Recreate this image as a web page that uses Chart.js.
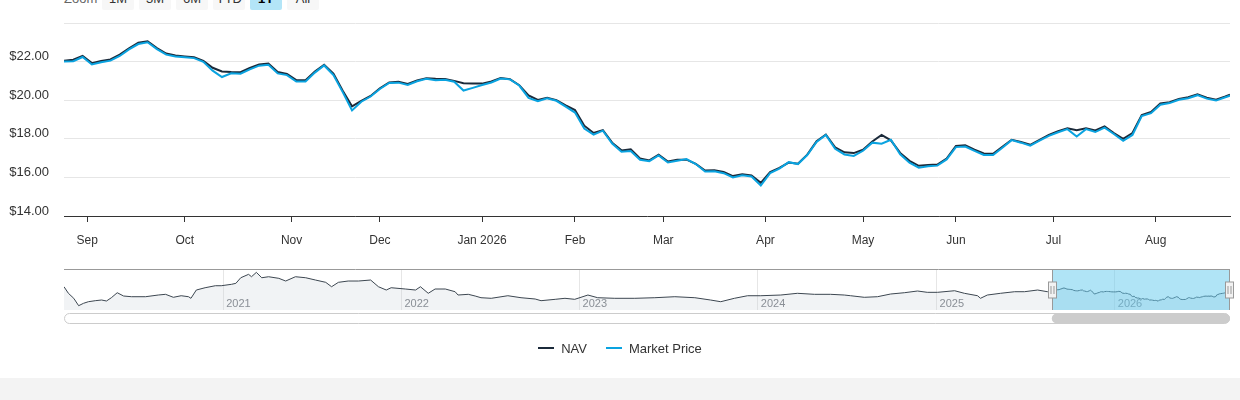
<!DOCTYPE html>
<html>
<head>
<meta charset="utf-8">
<title>NAV vs Market Price</title>
<script src="https://cdn.jsdelivr.net/npm/chart.js@4.4.1/dist/chart.umd.min.js"></script>
<style>
  html, body { margin: 0; padding: 0; background: #fff; }
  body { width: 1240px; height: 400px; position: relative; overflow: hidden;
         font-family: "Liberation Sans", Arial, sans-serif; }
  #zoom { position: absolute; left: 64px; top: -13px; height: 23px; display: flex; font-size: 13px; }
  #zoom .lbl { width: 38px; line-height: 23px; color: #666; }
  #zoom .btn { width: 32px; height: 23px; line-height: 23px; margin-right: 5px; text-align: center;
               background: #f7f7f7; color: #333; border-radius: 2px; }
  #zoom .btn.on { background: #b3e5f7; color: #000; font-weight: bold; }
  #main { position: absolute; left: 0; top: 0; width: 1240px; height: 262px; }
  #nav { position: absolute; left: 0; top: 260px; width: 1240px; height: 70px; }
  #legend { position: absolute; left: 0; top: 338px; width: 1240px; height: 20px; display: flex;
            justify-content: center; align-items: center; font-size: 13px; color: #333; }
  #legend .item { display: flex; align-items: center; margin: 0 9.5px; }
  #legend .sym { width: 16px; height: 2px; margin-right: 7px; }
  #footer { position: absolute; left: 0; top: 378px; width: 1240px; height: 22px; background: #f3f3f3; }
</style>
</head>
<body>
<div id="zoom">
  <div class="lbl">Zoom</div>
  <div class="btn">1M</div><div class="btn">3M</div><div class="btn">6M</div>
  <div class="btn">YTD</div><div class="btn on">1Y</div><div class="btn">All</div>
</div>
<div id="main"><canvas id="mainChart"></canvas></div>
<div id="nav"><canvas id="navChart"></canvas></div>
<div id="legend"></div>
<div id="footer"></div>

<script>
/* ============================
   DATA
============================ */
const START = "2025-08-25";
const END = "2026-08-25";
const HOLIDAYS = ["2025-09-01", "2025-11-27", "2025-12-25", "2026-01-01", "2026-01-19",
                  "2026-02-16", "2026-04-03", "2026-05-25", "2026-06-19", "2026-07-03"];

// one value every second trading session (plus the last one)
const nav = [
  22.05, 22.1, 22.29, 21.92, 22.03, 22.11, 22.36, 22.69, 22.98, 23.05,
  22.7, 22.42, 22.32, 22.27, 22.22, 22.04, 21.68, 21.49, 21.46, 21.45,
  21.67, 21.85, 21.9, 21.46, 21.36, 21.04, 21.03, 21.48, 21.84, 21.38,
  20.49, 19.68, 19.96, 20.22, 20.62, 20.92, 20.96, 20.84, 21.02, 21.14,
  21.11, 21.1, 21.0, 20.88, 20.87, 20.86, 20.97, 21.15, 21.09, 20.78,
  20.25, 20.01, 20.13, 20.0, 19.73, 19.49, 18.68, 18.3, 18.45, 17.8,
  17.4, 17.45, 16.98, 16.88, 17.17, 16.82, 16.91, 16.92, 16.7, 16.36,
  16.37, 16.28, 16.07, 16.16, 16.1, 15.72, 16.27, 16.49, 16.77, 16.71,
  17.18, 17.87, 18.22, 17.56, 17.3, 17.26, 17.43, 17.86, 18.2, 17.92,
  17.27, 16.86, 16.6, 16.64, 16.67, 16.98, 17.63, 17.67, 17.44, 17.24,
  17.22, 17.59, 17.95, 17.83, 17.69, 17.95, 18.2, 18.39, 18.55, 18.44,
  18.55, 18.43, 18.64, 18.3, 18.0, 18.3, 19.23, 19.39, 19.83, 19.9,
  20.07, 20.16, 20.3, 20.13, 20.03, 20.19, 20.28
];

const marketPrice = [
  22.0, 22.02, 22.24, 21.85, 21.97, 22.05, 22.29, 22.63, 22.91, 23.0,
  22.65, 22.36, 22.27, 22.22, 22.18, 21.99, 21.53, 21.2, 21.39, 21.37,
  21.6, 21.79, 21.84, 21.39, 21.3, 20.97, 20.97, 21.43, 21.8, 21.3,
  20.42, 19.47, 19.92, 20.19, 20.58, 20.89, 20.91, 20.79, 20.98, 21.11,
  21.03, 21.06, 20.96, 20.5, 20.64, 20.79, 20.92, 21.12, 21.08, 20.76,
  20.12, 19.95, 20.1, 19.97, 19.67, 19.36, 18.53, 18.22, 18.42, 17.75,
  17.33, 17.37, 16.91, 16.84, 17.14, 16.77, 16.86, 16.95, 16.69, 16.31,
  16.32, 16.22, 16.0, 16.11, 16.05, 15.58, 16.22, 16.46, 16.79, 16.69,
  17.16, 17.84, 18.2, 17.48, 17.19, 17.11, 17.38, 17.8, 17.75, 17.95,
  17.2, 16.76, 16.5, 16.58, 16.61, 16.93, 17.57, 17.6, 17.37, 17.16,
  17.16, 17.54, 17.93, 17.8, 17.64, 17.9, 18.15, 18.34, 18.5, 18.12,
  18.5, 18.35, 18.58, 18.25, 17.9, 18.2, 19.18, 19.33, 19.77, 19.85,
  20.02, 20.1, 20.26, 20.08, 19.98, 20.15, 20.24
];

// longer NAV history shown in the navigator
const historyDates = [
  "2020-02-10", "2020-02-19", "2020-03-01", "2020-03-11", "2020-03-21", "2020-03-31", "2020-04-14", "2020-04-27",
  "2020-05-07", "2020-05-17", "2020-05-29", "2020-06-11", "2020-06-27", "2020-07-26", "2020-08-21", "2020-09-05",
  "2020-09-21", "2020-10-07", "2020-10-22", "2020-10-27", "2020-11-07", "2020-11-25", "2020-12-16", "2020-12-28",
  "2021-01-18", "2021-01-27", "2021-02-06", "2021-02-22", "2021-02-28", "2021-03-10", "2021-03-21", "2021-04-04",
  "2021-04-25", "2021-05-09", "2021-05-29", "2021-06-19", "2021-07-09", "2021-07-30", "2021-08-11", "2021-08-25",
  "2021-09-14", "2021-10-05", "2021-10-30", "2021-11-15", "2021-12-01", "2021-12-11", "2022-01-09", "2022-01-30",
  "2022-02-09", "2022-02-25", "2022-03-11", "2022-04-01", "2022-04-21", "2022-04-27", "2022-05-18", "2022-06-01",
  "2022-06-13", "2022-07-04", "2022-08-07", "2022-09-03", "2022-10-02", "2022-10-14", "2022-11-12", "2022-12-02",
  "2022-12-22", "2023-01-18", "2023-02-07", "2023-03-14", "2023-04-24", "2023-06-04", "2023-07-15", "2023-08-25",
  "2023-09-26", "2023-10-17", "2023-11-14", "2023-12-11", "2024-01-07", "2024-02-17", "2024-03-22", "2024-04-26",
  "2024-05-29", "2024-06-26", "2024-07-09", "2024-08-06", "2024-09-02", "2024-09-29", "2024-10-27", "2024-11-23",
  "2024-12-13", "2025-01-03", "2025-02-07", "2025-02-27", "2025-03-26", "2025-04-01", "2025-04-15", "2025-05-12",
  "2025-06-10", "2025-06-30", "2025-07-27", "2025-08-16"
];
const historyNav = [
  23.74, 20.08, 17.3, 13.19, 14.52, 15.41, 15.97, 16.36,
  15.8, 17.63, 20.41, 18.58, 18.19, 18.19, 19.13, 19.52,
  17.86, 18.74, 18.19, 17.3, 21.91, 23.19, 24.3, 24.3,
  25.08, 25.63, 28.74, 30.63, 29.3, 31.74, 28.74, 29.3,
  28.41, 26.91, 29.3, 28.74, 27.47, 26.19, 23.74, 26.19,
  26.91, 26.91, 27.47, 23.74, 21.91, 23.19, 22.47, 21.91,
  23.74, 20.08, 22.47, 22.47, 20.97, 19.13, 19.52, 18.58,
  17.63, 17.3, 18.74, 17.63, 16.91, 15.97, 16.74, 17.3,
  16.74, 19.13, 17.63, 17.3, 17.3, 17.63, 18.19, 17.63,
  16.36, 15.41, 17.3, 18.74, 18.74, 19.13, 20.08, 19.52,
  19.52, 19.13, 18.74, 17.86, 18.19, 19.69, 20.41, 21.36,
  20.63, 20.63, 21.52, 20.08, 18.74, 17.3, 19.13, 20.08,
  20.97, 20.97, 21.91, 20.97
];

const monthLabels = ["Sep", "Oct", "Nov", "Dec", "Jan 2026", "Feb", "Mar", "Apr", "May", "Jun", "Jul", "Aug"];
const yearLabels = ["2021", "2022", "2023", "2024", "2025", "2026"];

const NAV_COLOR = "#1b2a3a";
const MARKET_COLOR = "#0aa3e0";
const FONT = '"Liberation Sans", Arial, sans-serif';

/* ============================
   TRADING CALENDAR
============================ */
function dayNum(iso) {
    const [y, m, d] = iso.split("-").map(Number);
    return Date.UTC(y, m - 1, d) / 864e5;
}

let sessions = [];
for (let t = dayNum(START); t <= dayNum(END); t++) {
    const dt = new Date(t * 864e5);
    const wd = dt.getUTCDay();
    const iso = dt.toISOString().slice(0, 10);
    if (wd > 0 && wd < 6 && !HOLIDAYS.includes(iso)) sessions.push(iso);
}
const lastSession = sessions.length - 1;

// sessions that carry a value
const sampleIdx = sessions.map((d, i) => i).filter(i => i % 2 === 0 || i === lastSession);

// first session of every month
let monthTickIdx = [];
sessions.forEach((d, i) => {
    if (i > 0 && d.slice(5, 7) !== sessions[i - 1].slice(5, 7)) monthTickIdx.push(i);
});

Chart.defaults.font.family = FONT;

/* ============================
   MAIN CHART
============================ */
new Chart(document.getElementById("mainChart"), {
    type: "line",
    data: {
        datasets: [{
            label: "NAV",
            data: nav.map((v, i) => ({ x: sampleIdx[i], y: v })),
            borderColor: NAV_COLOR,
            borderWidth: 2,
            order: 2
        }, {
            label: "Market Price",
            data: marketPrice.map((v, i) => ({ x: sampleIdx[i], y: v })),
            borderColor: MARKET_COLOR,
            borderWidth: 2,
            order: 1
        }]
    },
    options: {
        animation: false,
        responsive: true,
        maintainAspectRatio: false,
        layout: { padding: { top: 23, right: 10, left: 0, bottom: 0 } },
        plugins: { legend: { display: false }, tooltip: { enabled: false } },
        elements: { point: { radius: 0 }, line: { tension: 0 } },
        scales: {
            x: {
                type: "linear",
                min: 0,
                max: lastSession,
                afterBuildTicks: s => { s.ticks = monthTickIdx.map(v => ({ value: v })); },
                afterFit: s => { s.height = 46; },
                grid: { drawOnChartArea: false, drawTicks: true, tickLength: 6, tickColor: "#333", color: "#333" },
                border: { display: true, color: "#333", width: 1 },
                ticks: {
                    autoSkip: false, maxRotation: 0, padding: 11, color: "#333",
                    font: { size: 12 },
                    callback: (v, i) => monthLabels[i]
                }
            },
            y: {
                min: 14,
                max: 24,
                afterFit: s => { s.width = 64; },
                grid: { color: "#e6e6e6", drawTicks: false },
                border: { display: false },
                ticks: {
                    stepSize: 2, padding: 15, labelOffset: -5, color: "#333",
                    font: { size: 13 },
                    callback: v => v === 24 ? "" : "$" + v.toFixed(2)
                }
            }
        }
    }
});

/* ============================
   NAVIGATOR
============================ */
const startDay = dayNum(START);
const navPoints = historyDates.map((d, i) => ({ x: dayNum(d) - startDay, y: historyNav[i] }))
    .concat(sampleIdx.map((s, i) => ({ x: dayNum(sessions[s]) - startDay, y: nav[i] })));
const navMin = dayNum(historyDates[0]) - startDay;
const navMax = dayNum(sessions[lastSession]) - startDay;
const yearStarts = yearLabels.map(y => dayNum(y + "-01-01") - startDay);

function roundRect(ctx, x, y, w, h, r) {
    ctx.beginPath();
    if (ctx.roundRect) ctx.roundRect(x, y, w, h, r);
    else ctx.rect(x, y, w, h);
}

const navigatorDecor = {
    id: "navigatorDecor",
    afterDatasetsDraw(chart) {
        const { ctx, chartArea: a, scales: { x } } = chart;
        ctx.save();
        // year labels inside the navigator, right of each year line
        ctx.font = "11px " + FONT;
        ctx.fillStyle = "#8a8f96";
        ctx.textAlign = "left";
        ctx.textBaseline = "alphabetic";
        yearStarts.forEach((v, i) => {
            ctx.fillText(yearLabels[i], x.getPixelForValue(v) + 3, a.bottom - 3.5);
        });

        const x0 = Math.round(x.getPixelForValue(0)) + 0.5;
        const x1 = Math.round(x.getPixelForValue(navMax)) - 0.5;
        // selected range
        ctx.fillStyle = "rgba(97,201,237,0.5)";
        ctx.fillRect(x0, a.top, x1 - x0, a.bottom - a.top);
        // outline
        ctx.strokeStyle = "#999";
        ctx.lineWidth = 1;
        ctx.beginPath();
        ctx.moveTo(a.left, a.top + 0.5);
        ctx.lineTo(a.right, a.top + 0.5);
        ctx.moveTo(x0, a.top);
        ctx.lineTo(x0, a.bottom);
        ctx.moveTo(x1, a.top);
        ctx.lineTo(x1, a.bottom);
        ctx.stroke();
        // handles
        const mid = Math.round((a.top + a.bottom) / 2);
        [x0, x1].forEach(hx => {
            ctx.fillStyle = "#f2f2f2";
            ctx.fillRect(hx - 4, mid - 8, 8, 16);
            ctx.strokeRect(hx - 4, mid - 8, 8, 16);
            ctx.beginPath();
            ctx.moveTo(hx - 1.5, mid - 4);
            ctx.lineTo(hx - 1.5, mid + 4);
            ctx.moveTo(hx + 1.5, mid - 4);
            ctx.lineTo(hx + 1.5, mid + 4);
            ctx.stroke();
        });
        ctx.restore();
    },
    afterDraw(chart) {
        const { ctx, chartArea: a, scales: { x } } = chart;
        const x0 = x.getPixelForValue(0);
        const x1 = x.getPixelForValue(navMax);
        const top = a.bottom + 3.5;
        ctx.save();
        // scrollbar track
        roundRect(ctx, a.left + 0.5, top, a.right - a.left - 1, 10, 5);
        ctx.fillStyle = "#fff";
        ctx.fill();
        ctx.strokeStyle = "#ccc";
        ctx.stroke();
        // scrollbar thumb
        roundRect(ctx, x0, top, x1 - x0, 10, 5);
        ctx.fillStyle = "#cccccc";
        ctx.fill();
        ctx.restore();
    }
};

new Chart(document.getElementById("navChart"), {
    type: "line",
    data: {
        datasets: [{
            label: "NAV",
            data: navPoints,
            borderColor: "#3c4650",
            borderWidth: 1,
            fill: "start",
            backgroundColor: "rgba(200,207,216,0.25)"
        }]
    },
    options: {
        animation: false,
        responsive: true,
        maintainAspectRatio: false,
        layout: { padding: { top: 9, right: 10, left: 64, bottom: 0 } },
        plugins: { legend: { display: false }, tooltip: { enabled: false } },
        elements: { point: { radius: 0 }, line: { tension: 0 } },
        scales: {
            x: {
                type: "linear",
                min: navMin,
                max: navMax,
                afterBuildTicks: s => { s.ticks = yearStarts.map(v => ({ value: v })); },
                afterFit: s => { s.height = 20; },
                grid: { color: "#e6e6e6", drawTicks: false },
                border: { display: false },
                ticks: { display: false }
            },
            y: { display: false, min: 10.8, max: 33.6 }
        }
    },
    plugins: [navigatorDecor]
});

/* ============================
   LEGEND
============================ */
const legend = document.getElementById("legend");
[["NAV", NAV_COLOR], ["Market Price", MARKET_COLOR]].forEach(([name, color]) => {
    const item = document.createElement("div");
    item.className = "item";
    item.innerHTML = `<span class="sym" style="background:${color}"></span><span>${name}</span>`;
    legend.appendChild(item);
});
</script>
</body>
</html>
